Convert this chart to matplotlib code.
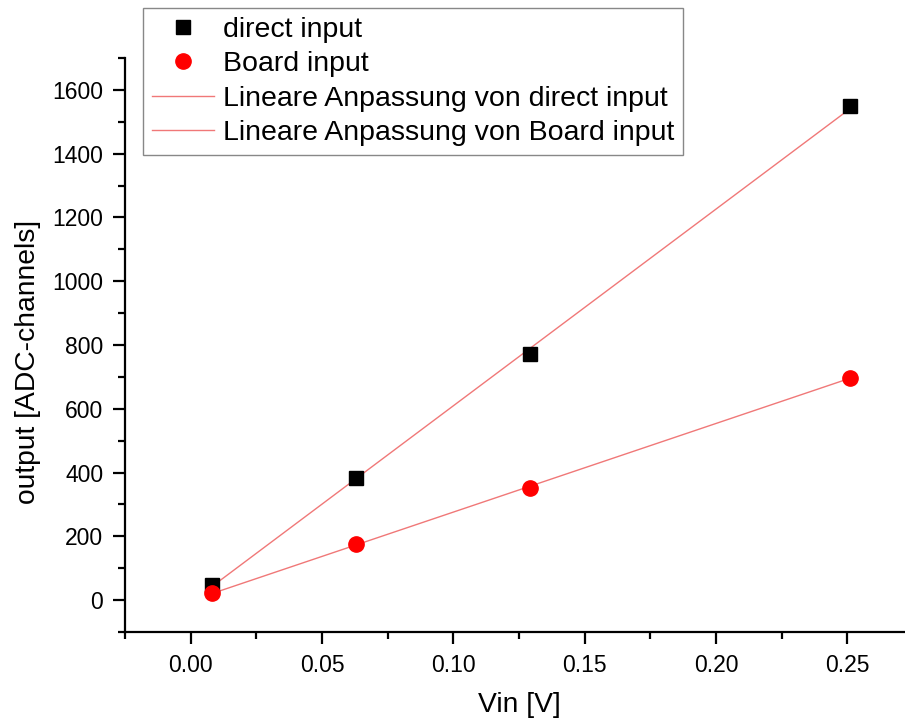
import numpy as np
import matplotlib
matplotlib.use('Agg')
import matplotlib.pyplot as plt
from matplotlib.ticker import MultipleLocator, FormatStrFormatter
from matplotlib.lines import Line2D

plt.rcParams['font.family'] = ['Liberation Sans', 'DejaVu Sans']

# data
vin = [0.008, 0.063, 0.129, 0.251]
direct_input = [48, 383, 773, 1548]
board_input = [21, 176, 351, 698]

fit_color = '#f07878'

fig = plt.figure(figsize=(9.05, 7.24), dpi=100)
ax = fig.add_axes([0.138, 0.127, 0.871, 0.793])

# linear fits
x = np.array(vin)
for y in (direct_input, board_input):
    k, d = np.polyfit(x, y, 1)
    xs = np.array([x.min(), x.max()])
    ax.plot(xs, k * xs + d, color=fit_color, lw=1.0, zorder=1)

ax.plot(vin, direct_input, 's', color='black', ms=9.5, zorder=3)
ax.plot(vin, board_input, 'o', color='#ff0000', ms=11, zorder=3)

ax.set_xlim(-0.025, 0.275)
ax.set_ylim(-100, 1700)
ax.xaxis.set_major_locator(MultipleLocator(0.05))
ax.xaxis.set_minor_locator(MultipleLocator(0.025))
ax.yaxis.set_major_locator(MultipleLocator(200))
ax.yaxis.set_minor_locator(MultipleLocator(100))
ax.xaxis.set_major_formatter(FormatStrFormatter('%.2f'))

for s in ('top', 'right'):
    ax.spines[s].set_visible(False)
for s in ('left', 'bottom'):
    ax.spines[s].set_linewidth(1.6)
ax.tick_params(which='major', direction='out', length=8.5, width=1.6, labelsize=16.5, pad=7)
ax.tick_params(which='minor', direction='out', length=5, width=1.6)

ax.set_xlabel('Vin [V]', fontsize=20.3, labelpad=11)
ax.set_ylabel('output [ADC-channels]', fontsize=20.3, labelpad=8)
ax.yaxis.label.set_y(0.47)

handles = [
    Line2D([], [], ls='', marker='s', color='black', ms=9.5),
    Line2D([], [], ls='', marker='o', color='#ff0000', ms=11),
    Line2D([], [], color=fit_color, lw=1.0),
    Line2D([], [], color=fit_color, lw=1.0),
]
labels = ['direct input', 'Board input',
          'Lineare Anpassung von direct input',
          'Lineare Anpassung von Board input']
leg = fig.legend(handles, labels, loc='upper left', bbox_to_anchor=(0.158, 0.989),
                 fontsize=20.5, fancybox=False, framealpha=1, edgecolor='#888888',
                 borderpad=0.3, labelspacing=0.3, handlelength=2.2, handletextpad=0.3,
                 borderaxespad=0)
leg.get_frame().set_linewidth(1.0)

fig.savefig('out.png', dpi=100)
